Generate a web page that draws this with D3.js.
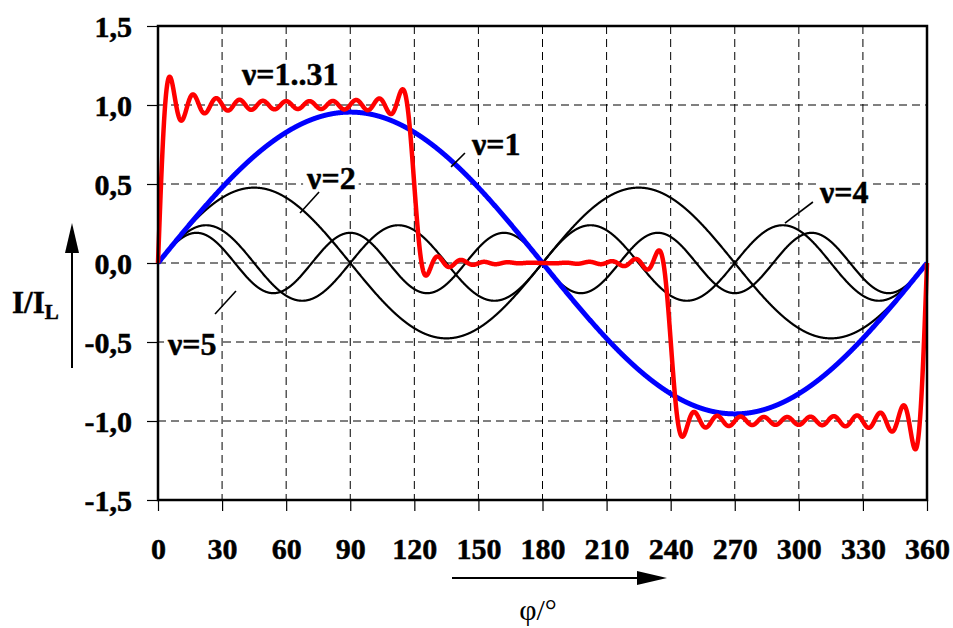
<!DOCTYPE html>
<html>
<head>
<meta charset="utf-8">
<script src="https://cdn.jsdelivr.net/npm/d3@7"></script>
<style>
  html, body { margin: 0; padding: 0; background: #fff; }
  svg { display: block; }
  text { font-family: "Liberation Serif", "Times New Roman", serif; }
</style>
</head>
<body>
<svg id="chart" width="953" height="628"></svg>
<script>
// ---- data ----
const phiTicks = [0, 30, 60, 90, 120, 150, 180, 210, 240, 270, 300, 330, 360];
const yTicks = [-1.5, -1.0, -0.5, 0.0, 0.5, 1.0, 1.5];
const yTickLabels = ["-1,5", "-1,0", "-0,5", "0,0", "0,5", "1,0", "1,5"];

// harmonic orders of the 120° block current and their amplitudes (I/I_L)
const harmonicOrders = [1, 2, 4, 5, 7, 8, 10, 11, 13, 14, 16, 17, 19, 20, 22, 23, 25, 26, 28, 29, 31, 32];
const harmonicAmplitudes = [0.955, 0.477, 0.239, 0.191, 0.136, 0.119, 0.095, 0.087, 0.074, 0.068,
                            0.060, 0.056, 0.050, 0.048, 0.043, 0.042, 0.038, 0.037, 0.034, 0.033,
                            0.031, 0.030];

const blueOrders = [1];
const blackOrders = [2, 4, 5];

// annotation labels: text, anchor [phi, value], leader line ends [phi, value]
const labelTexts = ["ν=1..31", "ν=1", "ν=2", "ν=4", "ν=5"];
const labelPhi   = [39.3, 147.0, 69.8, 309.9, 4.7];
const labelValue = [1.127, 0.684, 0.468, 0.380, -0.582];
const leaderFrom = [null, [137.2, 0.608], [66.5, 0.316], [293.5, 0.253], [26.7, -0.323]];
const leaderTo   = [null, [143.7, 0.696], [75.4, 0.449], [306.6, 0.386], [36.5, -0.177]];

// ---- layout ----
const svg = d3.select("#chart");
const L = 158, R = 927, T = 26, B = 500;
const x = d3.scaleLinear().domain([0, 360]).range([L, R]);
const y = d3.scaleLinear().domain([-1.5, 1.5]).range([B, T]);

const textStroke = sel => sel.attr("stroke", "#000").attr("stroke-width", 0.5);

// grid
const grid = svg.append("g");
grid.selectAll("line.v").data(phiTicks.filter(d => d > 0 && d < 360)).join("line")
  .attr("x1", d => x(d)).attr("x2", d => x(d)).attr("y1", T).attr("y2", B)
  .attr("stroke", "#000").attr("stroke-width", 1).attr("stroke-dasharray", "8,5");
grid.selectAll("line.h").data(yTicks.filter(d => d > -1.5 && d < 1.5)).join("line")
  .attr("x1", L).attr("x2", R).attr("y1", d => y(d)).attr("y2", d => y(d))
  .attr("stroke", "#000").attr("stroke-width", 1).attr("stroke-dasharray", "8,5");

// axes
const xAxis = d3.axisBottom(x).tickValues(phiTicks).tickSize(11).tickFormat(d => d);
const gx = svg.append("g").attr("transform", `translate(0,${B})`).call(xAxis);
gx.select(".domain").remove();
gx.selectAll(".tick line").attr("stroke", "#000").attr("stroke-width", 1.2);
gx.selectAll(".tick text").attr("y", 59).attr("dy", null)
  .attr("font-size", 30).attr("font-weight", "bold").attr("fill", "#000")
  .call(textStroke);

const yAxis = d3.axisLeft(y).tickValues(yTicks).tickSize(11)
  .tickFormat((d, i) => yTickLabels[i]);
const gy = svg.append("g").attr("transform", `translate(${L},0)`).call(yAxis);
gy.select(".domain").remove();
gy.selectAll(".tick line").attr("stroke", "#000").attr("stroke-width", 1.2);
gy.selectAll(".tick text").attr("x", -26).attr("dy", "0.35em")
  .attr("font-size", 30).attr("font-weight", "bold").attr("fill", "#000")
  .call(textStroke);

// layers
const bgLayer = svg.append("g");
const curveLayer = svg.append("g");
const labelLayer = svg.append("g");

// curves
const samples = d3.range(0, 360.0001, 0.1);
const ampOf = o => harmonicAmplitudes[harmonicOrders.indexOf(o)];
const harmonicPoints = (orders) => samples.map(p => [p,
  d3.sum(orders, o => ampOf(o) * Math.sin(o * p * Math.PI / 180))]);
const line = d3.line().x(d => x(d[0])).y(d => y(d[1]));

blackOrders.forEach(o => {
  curveLayer.append("path").datum(harmonicPoints([o])).attr("d", line)
    .attr("fill", "none").attr("stroke", "#000").attr("stroke-width", 2.2);
});
curveLayer.append("path").datum(harmonicPoints(blueOrders)).attr("d", line)
  .attr("fill", "none").attr("stroke", "#0000ff").attr("stroke-width", 5);
curveLayer.append("path").datum(harmonicPoints(harmonicOrders)).attr("d", line)
  .attr("fill", "none").attr("stroke", "#ff0000").attr("stroke-width", 4.5)
  .attr("stroke-linejoin", "round");

// frame
svg.append("rect").attr("x", L).attr("y", T).attr("width", R - L).attr("height", B - T)
  .attr("fill", "none").attr("stroke", "#000").attr("stroke-width", 2.5);

// annotations
labelTexts.forEach((t, i) => {
  const txt = labelLayer.append("text")
    .attr("x", x(labelPhi[i])).attr("y", y(labelValue[i]))
    .attr("font-size", 32).attr("font-weight", "bold").attr("fill", "#000")
    .call(textStroke)
    .text(t);
  const bb = txt.node().getBBox();
  bgLayer.append("rect").attr("x", bb.x - 3).attr("y", bb.y + 4)
    .attr("width", bb.width + 6).attr("height", bb.height - 7).attr("fill", "#fff");
  if (leaderFrom[i]) {
    labelLayer.append("line")
      .attr("x1", x(leaderFrom[i][0])).attr("y1", y(leaderFrom[i][1]))
      .attr("x2", x(leaderTo[i][0])).attr("y2", y(leaderTo[i][1]))
      .attr("stroke", "#000").attr("stroke-width", 1.6);
  }
});

// y-axis title with arrow
const yt = svg.append("text").attr("x", 12).attr("y", 313)
  .attr("font-size", 31).attr("font-weight", "bold").attr("fill", "#000")
  .call(textStroke);
yt.append("tspan").text("I/I");
yt.append("tspan").attr("font-size", 21).attr("dy", 6).text("L");
svg.append("line").attr("x1", 72).attr("x2", 72).attr("y1", 368).attr("y2", 248)
  .attr("stroke", "#000").attr("stroke-width", 2);
svg.append("path").attr("d", "M72,223 L65,253 L79,253 Z").attr("fill", "#000");

// x-axis title with arrow
svg.append("line").attr("x1", 452).attr("x2", 642).attr("y1", 578).attr("y2", 578)
  .attr("stroke", "#000").attr("stroke-width", 2);
svg.append("path").attr("d", "M667,578 L637,571 L637,585 Z").attr("fill", "#000");
svg.append("text").attr("x", 538).attr("y", 620).attr("text-anchor", "middle")
  .attr("font-size", 30).attr("fill", "#000").text("φ/°");
</script>
</body>
</html>
